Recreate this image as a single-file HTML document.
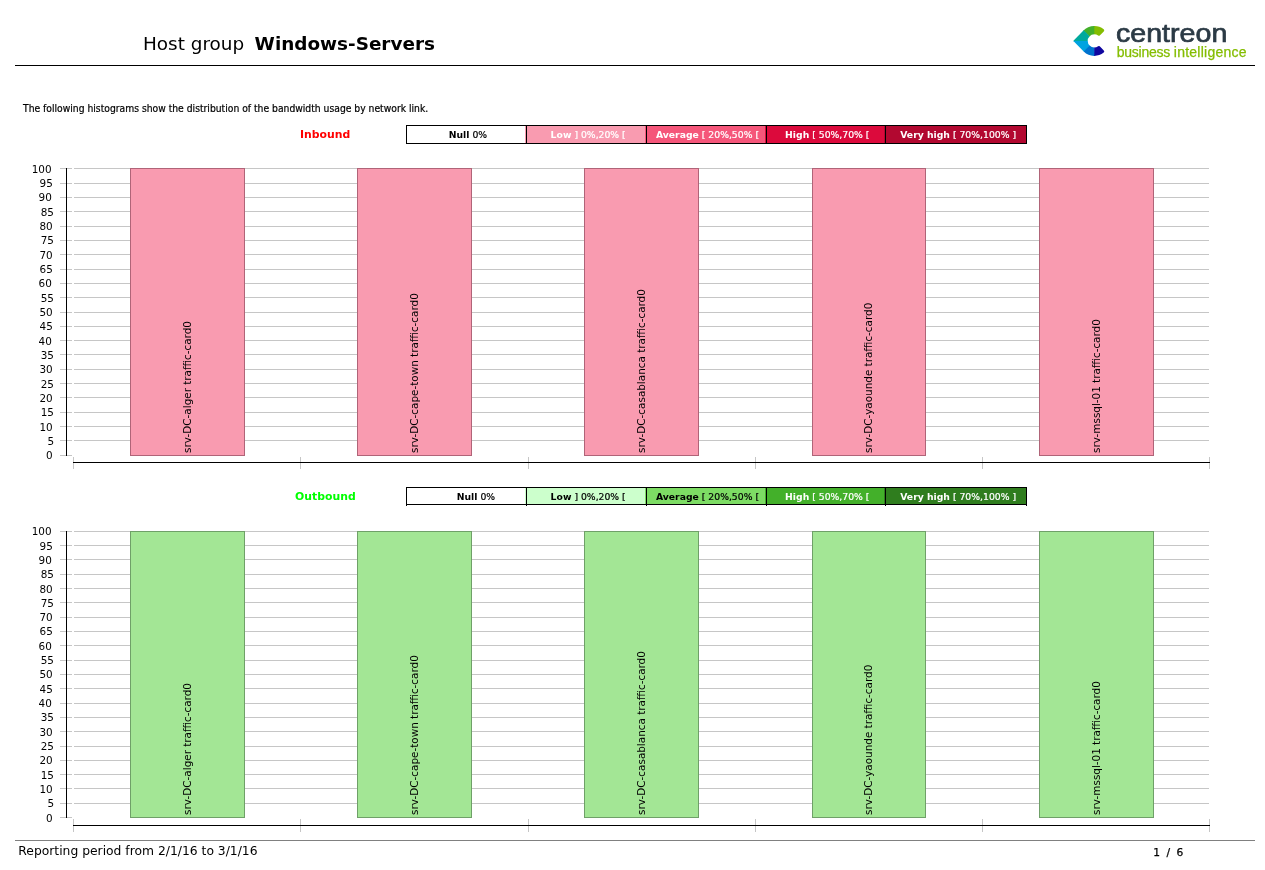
<!DOCTYPE html>
<html lang="en"><head><meta charset="utf-8"><title>Host group Windows-Servers</title>
<style>
html,body{margin:0;padding:0;background:#fff;}
body{width:1265px;height:870px;position:relative;overflow:hidden;font-family:"DejaVu Sans","Liberation Sans",sans-serif;color:#000;}
.abs{position:absolute;white-space:nowrap;}
.t1{font-size:18.4px;line-height:22px;}
.hl{position:absolute;height:1px;}
.vl{position:absolute;width:1px;}
.intro{transform-origin:0 0;transform:scaleX(1.051);-webkit-text-stroke:0.2px;font-family:"DejaVu Sans Condensed","DejaVu Sans","Liberation Sans",sans-serif;font-size:9.75px;line-height:12px;}
.lc{position:absolute;text-align:center;font-family:"DejaVu Sans Condensed","DejaVu Sans","Liberation Sans",sans-serif;font-size:9.1px;line-height:18.6px;overflow:hidden;white-space:nowrap;}
.lc b{font-weight:bold;-webkit-text-stroke:0;}
.lc span{display:inline-block;transform:scaleX(1.132);-webkit-text-stroke:0.2px;}
.ttl{transform-origin:0 0;transform:scaleX(1.15);font-family:"DejaVu Sans Condensed","DejaVu Sans","Liberation Sans",sans-serif;font-weight:bold;font-size:10.5px;line-height:14px;}
.yl{position:absolute;font-size:10.42px;line-height:12px;width:40px;text-align:right;}
.bar{position:absolute;box-sizing:border-box;}
.bl{position:absolute;font-size:10.42px;line-height:12px;white-space:nowrap;transform-origin:0 0;transform:rotate(-90deg);}
.foot{font-size:12.33px;line-height:14px;}
</style></head><body>

<div class="abs t1" style="left:143px;top:33px;">Host group</div>
<div class="abs t1" style="left:254.6px;top:33px;font-weight:bold;">Windows-Servers</div>
<div class="hl" style="left:15px;top:65px;width:1240px;background:#000;"></div>
<svg class="abs" style="left:1065px;top:15px;" width="60" height="50" viewBox="0 0 60 50">
<path d="M38.72 14.22A15.0 15.0 0 0 0 28.51 10.92L28.95 19.31A6.6 6.6 0 0 1 33.11 20.51Q33.97 21.23 34.76 20.44L38.78 16.42Q39.91 15.29 38.72 14.22Z" fill="#84bd00"/>
<path d="M29.30 10.90A15.0 15.0 0 0 0 18.15 15.86L24.40 21.48A6.6 6.6 0 0 1 29.30 19.30Z" fill="#43b02a"/>
<path d="M18.69 15.29L8.90 25.35Q8.30 25.90 8.40 26.20L22.70 26.20A6.6 6.6 0 0 1 24.63 21.23Z" fill="#00a99d"/>
<path d="M19.26 37.05A15.0 15.0 0 0 1 18.69 36.51L8.90 26.45Q8.30 25.90 8.40 25.90L22.70 25.90A6.6 6.6 0 0 0 24.88 30.80Z" fill="#00a3e0"/>
<path d="M18.69 36.51A15.0 15.0 0 0 0 30.09 40.88L29.65 32.49A6.6 6.6 0 0 1 24.63 30.57Z" fill="#0072ce"/>
<path d="M29.30 40.90A15.0 15.0 0 0 0 38.72 37.58Q39.91 36.51 38.78 35.38L34.76 31.36Q33.97 30.57 33.11 31.29A6.6 6.6 0 0 1 29.30 32.50Z" fill="#10069f"/></svg>
<div class="abs" id="ctn" style="left:1116px;top:17.5px;font-family:'Liberation Sans',sans-serif;font-size:26px;line-height:30px;color:#2b3a45;-webkit-text-stroke:0.7px #2b3a45;transform-origin:0 0;transform:scaleX(1.10);">centreon</div>
<div class="abs" id="bi" style="left:1116.8px;top:42.5px;font-family:'Liberation Sans',sans-serif;font-size:14px;line-height:18px;color:#84bd00;-webkit-text-stroke:0.25px #84bd00;"><span style="letter-spacing:-0.27px">business</span> <span style="letter-spacing:0.24px">intelligence</span></div>
<div class="abs intro" style="left:23px;top:103px;">The following histograms show the distribution of the bandwidth usage by network link.</div>
<div class="abs ttl" style="left:300px;top:127.35px;color:#ff0000;">Inbound</div>
<div class="lc" style="left:407px;top:126px;width:114px;padding-left:4px;height:17px;background:#fff;color:#000;"><span><b>Null</b> 0%</span></div>
<div class="lc" style="left:525px;top:126px;width:114px;padding-left:6px;height:17px;background:#f99bb0;color:#fff;"><span><b>Low</b> ] 0%,20% [</span></div>
<div class="lc" style="left:645px;top:126px;width:114px;padding-left:6px;height:17px;background:#f5567a;color:#fff;"><span><b>Average</b> [ 20%,50% [</span></div>
<div class="lc" style="left:765px;top:126px;width:113px;padding-left:6px;height:17px;background:#dc0a3c;color:#fff;"><span><b>High</b> [ 50%,70% [</span></div>
<div class="lc" style="left:884px;top:126px;width:136px;padding-left:6px;height:17px;background:#b20830;color:#fff;"><span><b>Very high</b> [ 70%,100% ]</span></div>
<div class="hl" style="left:406px;top:125px;width:621px;background:#000;"></div>
<div class="hl" style="left:406px;top:143px;width:621px;background:#000;"></div>
<div class="vl" style="left:406px;top:125px;height:19px;background:#000;"></div>
<div class="vl" style="left:526px;top:125px;height:19px;background:#000;"></div>
<div class="vl" style="left:646px;top:125px;height:19px;background:#000;"></div>
<div class="vl" style="left:766px;top:125px;height:19px;background:#000;"></div>
<div class="vl" style="left:885px;top:125px;height:19px;background:#000;"></div>
<div class="vl" style="left:1026px;top:125px;height:19px;background:#000;"></div>
<div class="hl" style="left:60px;top:168px;width:12px;background:#c6c6c6;"></div>
<div class="hl" style="left:74px;top:168px;width:1135px;background:#c6c6c6;"></div>
<div class="yl" style="left:11.54px;top:162.82px;">100</div>
<div class="hl" style="left:60px;top:183px;width:12px;background:#c6c6c6;"></div>
<div class="hl" style="left:74px;top:183px;width:1135px;background:#c6c6c6;"></div>
<div class="yl" style="left:12.85px;top:177.14px;">95</div>
<div class="hl" style="left:60px;top:197px;width:12px;background:#c6c6c6;"></div>
<div class="hl" style="left:74px;top:197px;width:1135px;background:#c6c6c6;"></div>
<div class="yl" style="left:11.79px;top:191.46px;">90</div>
<div class="hl" style="left:60px;top:211px;width:12px;background:#c6c6c6;"></div>
<div class="hl" style="left:74px;top:211px;width:1135px;background:#c6c6c6;"></div>
<div class="yl" style="left:14.00px;top:205.78px;">85</div>
<div class="hl" style="left:60px;top:226px;width:12px;background:#c6c6c6;"></div>
<div class="hl" style="left:74px;top:226px;width:1135px;background:#c6c6c6;"></div>
<div class="yl" style="left:12.69px;top:220.10px;">80</div>
<div class="hl" style="left:60px;top:240px;width:12px;background:#c6c6c6;"></div>
<div class="hl" style="left:74px;top:240px;width:1135px;background:#c6c6c6;"></div>
<div class="yl" style="left:14.00px;top:234.42px;">75</div>
<div class="hl" style="left:60px;top:254px;width:12px;background:#c6c6c6;"></div>
<div class="hl" style="left:74px;top:254px;width:1135px;background:#c6c6c6;"></div>
<div class="yl" style="left:12.69px;top:248.74px;">70</div>
<div class="hl" style="left:60px;top:269px;width:12px;background:#c6c6c6;"></div>
<div class="hl" style="left:74px;top:269px;width:1135px;background:#c6c6c6;"></div>
<div class="yl" style="left:12.80px;top:263.06px;">65</div>
<div class="hl" style="left:60px;top:283px;width:12px;background:#c6c6c6;"></div>
<div class="hl" style="left:74px;top:283px;width:1135px;background:#c6c6c6;"></div>
<div class="yl" style="left:11.79px;top:277.38px;">60</div>
<div class="hl" style="left:60px;top:297px;width:12px;background:#c6c6c6;"></div>
<div class="hl" style="left:74px;top:297px;width:1135px;background:#c6c6c6;"></div>
<div class="yl" style="left:14.00px;top:291.70px;">55</div>
<div class="hl" style="left:60px;top:312px;width:12px;background:#c6c6c6;"></div>
<div class="hl" style="left:74px;top:312px;width:1135px;background:#c6c6c6;"></div>
<div class="yl" style="left:12.69px;top:306.02px;">50</div>
<div class="hl" style="left:60px;top:326px;width:12px;background:#c6c6c6;"></div>
<div class="hl" style="left:74px;top:326px;width:1135px;background:#c6c6c6;"></div>
<div class="yl" style="left:12.80px;top:320.34px;">45</div>
<div class="hl" style="left:60px;top:340px;width:12px;background:#c6c6c6;"></div>
<div class="hl" style="left:74px;top:340px;width:1135px;background:#c6c6c6;"></div>
<div class="yl" style="left:11.79px;top:334.66px;">40</div>
<div class="hl" style="left:60px;top:354px;width:12px;background:#c6c6c6;"></div>
<div class="hl" style="left:74px;top:354px;width:1135px;background:#c6c6c6;"></div>
<div class="yl" style="left:14.00px;top:348.98px;">35</div>
<div class="hl" style="left:60px;top:369px;width:12px;background:#c6c6c6;"></div>
<div class="hl" style="left:74px;top:369px;width:1135px;background:#c6c6c6;"></div>
<div class="yl" style="left:12.69px;top:363.30px;">30</div>
<div class="hl" style="left:60px;top:383px;width:12px;background:#c6c6c6;"></div>
<div class="hl" style="left:74px;top:383px;width:1135px;background:#c6c6c6;"></div>
<div class="yl" style="left:14.00px;top:377.62px;">25</div>
<div class="hl" style="left:60px;top:397px;width:12px;background:#c6c6c6;"></div>
<div class="hl" style="left:74px;top:397px;width:1135px;background:#c6c6c6;"></div>
<div class="yl" style="left:12.69px;top:391.94px;">20</div>
<div class="hl" style="left:60px;top:412px;width:12px;background:#c6c6c6;"></div>
<div class="hl" style="left:74px;top:412px;width:1135px;background:#c6c6c6;"></div>
<div class="yl" style="left:14.00px;top:406.26px;">15</div>
<div class="hl" style="left:60px;top:426px;width:12px;background:#c6c6c6;"></div>
<div class="hl" style="left:74px;top:426px;width:1135px;background:#c6c6c6;"></div>
<div class="yl" style="left:12.69px;top:420.58px;">10</div>
<div class="hl" style="left:60px;top:440px;width:12px;background:#c6c6c6;"></div>
<div class="hl" style="left:74px;top:440px;width:1135px;background:#c6c6c6;"></div>
<div class="yl" style="left:14.00px;top:434.90px;">5</div>
<div class="hl" style="left:60px;top:455px;width:12px;background:#c6c6c6;"></div>
<div class="yl" style="left:12.69px;top:449.22px;">0</div>
<div class="vl" style="left:66px;top:168px;height:288px;background:#000;"></div>
<div class="vl" style="left:73px;top:457px;height:12px;background:#c6c6c6;"></div>
<div class="vl" style="left:300px;top:457px;height:12px;background:#c6c6c6;"></div>
<div class="vl" style="left:528px;top:457px;height:12px;background:#c6c6c6;"></div>
<div class="vl" style="left:755px;top:457px;height:12px;background:#c6c6c6;"></div>
<div class="vl" style="left:982px;top:457px;height:12px;background:#c6c6c6;"></div>
<div class="vl" style="left:1209px;top:457px;height:12px;background:#c6c6c6;"></div>
<div class="hl" style="left:73px;top:462px;width:1137px;background:#000;"></div>
<div class="bar" style="left:130px;top:168px;width:115px;height:288px;background:#f99bb0;border:1px solid #b06478;"></div>
<div class="bl" style="left:181.30px;top:452.62px;">srv-DC-alger traffic-card0</div>
<div class="bar" style="left:357px;top:168px;width:115px;height:288px;background:#f99bb0;border:1px solid #b06478;"></div>
<div class="bl" style="left:407.70px;top:452.62px;">srv-DC-cape-town traffic-card0</div>
<div class="bar" style="left:584px;top:168px;width:115px;height:288px;background:#f99bb0;border:1px solid #b06478;"></div>
<div class="bl" style="left:635.00px;top:452.62px;">srv-DC-casablanca traffic-card0</div>
<div class="bar" style="left:812px;top:168px;width:114px;height:288px;background:#f99bb0;border:1px solid #b06478;"></div>
<div class="bl" style="left:862.20px;top:452.62px;">srv-DC-yaounde traffic-card0</div>
<div class="bar" style="left:1039px;top:168px;width:115px;height:288px;background:#f99bb0;border:1px solid #b06478;"></div>
<div class="bl" style="left:1090.10px;top:452.62px;">srv-mssql-01 traffic-card0</div>
<div class="abs ttl" style="left:295px;top:489.35px;color:#00ff00;">Outbound</div>
<div class="lc" style="left:407px;top:488px;width:99px;padding-left:19px;height:16px;background:#fff;color:#000;"><span><b>Null</b> 0%</span></div>
<div class="lc" style="left:525px;top:488px;width:114px;padding-left:6px;height:16px;background:#ccffcc;color:#000;"><span><b>Low</b> ] 0%,20% [</span></div>
<div class="lc" style="left:645px;top:488px;width:114px;padding-left:6px;height:16px;background:#7ddc64;color:#000;"><span><b>Average</b> [ 20%,50% [</span></div>
<div class="lc" style="left:765px;top:488px;width:113px;padding-left:6px;height:16px;background:#43b02a;color:#fff;"><span><b>High</b> [ 50%,70% [</span></div>
<div class="lc" style="left:884px;top:488px;width:136px;padding-left:6px;height:16px;background:#2f7d1e;color:#fff;"><span><b>Very high</b> [ 70%,100% ]</span></div>
<div class="hl" style="left:406px;top:487px;width:621px;background:#000;"></div>
<div class="hl" style="left:406px;top:504px;width:621px;background:#000;"></div>
<div class="vl" style="left:406px;top:487px;height:19px;background:#000;"></div>
<div class="vl" style="left:526px;top:487px;height:19px;background:#000;"></div>
<div class="vl" style="left:646px;top:487px;height:19px;background:#000;"></div>
<div class="vl" style="left:766px;top:487px;height:19px;background:#000;"></div>
<div class="vl" style="left:885px;top:487px;height:19px;background:#000;"></div>
<div class="vl" style="left:1026px;top:487px;height:19px;background:#000;"></div>
<div class="hl" style="left:60px;top:531px;width:12px;background:#c6c6c6;"></div>
<div class="hl" style="left:74px;top:531px;width:1135px;background:#c6c6c6;"></div>
<div class="yl" style="left:11.54px;top:525.22px;">100</div>
<div class="hl" style="left:60px;top:545px;width:12px;background:#c6c6c6;"></div>
<div class="hl" style="left:74px;top:545px;width:1135px;background:#c6c6c6;"></div>
<div class="yl" style="left:12.85px;top:539.54px;">95</div>
<div class="hl" style="left:60px;top:559px;width:12px;background:#c6c6c6;"></div>
<div class="hl" style="left:74px;top:559px;width:1135px;background:#c6c6c6;"></div>
<div class="yl" style="left:11.79px;top:553.86px;">90</div>
<div class="hl" style="left:60px;top:574px;width:12px;background:#c6c6c6;"></div>
<div class="hl" style="left:74px;top:574px;width:1135px;background:#c6c6c6;"></div>
<div class="yl" style="left:14.00px;top:568.18px;">85</div>
<div class="hl" style="left:60px;top:588px;width:12px;background:#c6c6c6;"></div>
<div class="hl" style="left:74px;top:588px;width:1135px;background:#c6c6c6;"></div>
<div class="yl" style="left:12.69px;top:582.50px;">80</div>
<div class="hl" style="left:60px;top:602px;width:12px;background:#c6c6c6;"></div>
<div class="hl" style="left:74px;top:602px;width:1135px;background:#c6c6c6;"></div>
<div class="yl" style="left:14.00px;top:596.82px;">75</div>
<div class="hl" style="left:60px;top:617px;width:12px;background:#c6c6c6;"></div>
<div class="hl" style="left:74px;top:617px;width:1135px;background:#c6c6c6;"></div>
<div class="yl" style="left:12.69px;top:611.14px;">70</div>
<div class="hl" style="left:60px;top:631px;width:12px;background:#c6c6c6;"></div>
<div class="hl" style="left:74px;top:631px;width:1135px;background:#c6c6c6;"></div>
<div class="yl" style="left:12.80px;top:625.46px;">65</div>
<div class="hl" style="left:60px;top:645px;width:12px;background:#c6c6c6;"></div>
<div class="hl" style="left:74px;top:645px;width:1135px;background:#c6c6c6;"></div>
<div class="yl" style="left:11.79px;top:639.78px;">60</div>
<div class="hl" style="left:60px;top:660px;width:12px;background:#c6c6c6;"></div>
<div class="hl" style="left:74px;top:660px;width:1135px;background:#c6c6c6;"></div>
<div class="yl" style="left:14.00px;top:654.10px;">55</div>
<div class="hl" style="left:60px;top:674px;width:12px;background:#c6c6c6;"></div>
<div class="hl" style="left:74px;top:674px;width:1135px;background:#c6c6c6;"></div>
<div class="yl" style="left:12.69px;top:668.42px;">50</div>
<div class="hl" style="left:60px;top:688px;width:12px;background:#c6c6c6;"></div>
<div class="hl" style="left:74px;top:688px;width:1135px;background:#c6c6c6;"></div>
<div class="yl" style="left:12.80px;top:682.74px;">45</div>
<div class="hl" style="left:60px;top:703px;width:12px;background:#c6c6c6;"></div>
<div class="hl" style="left:74px;top:703px;width:1135px;background:#c6c6c6;"></div>
<div class="yl" style="left:11.79px;top:697.06px;">40</div>
<div class="hl" style="left:60px;top:717px;width:12px;background:#c6c6c6;"></div>
<div class="hl" style="left:74px;top:717px;width:1135px;background:#c6c6c6;"></div>
<div class="yl" style="left:14.00px;top:711.38px;">35</div>
<div class="hl" style="left:60px;top:731px;width:12px;background:#c6c6c6;"></div>
<div class="hl" style="left:74px;top:731px;width:1135px;background:#c6c6c6;"></div>
<div class="yl" style="left:12.69px;top:725.70px;">30</div>
<div class="hl" style="left:60px;top:746px;width:12px;background:#c6c6c6;"></div>
<div class="hl" style="left:74px;top:746px;width:1135px;background:#c6c6c6;"></div>
<div class="yl" style="left:14.00px;top:740.02px;">25</div>
<div class="hl" style="left:60px;top:760px;width:12px;background:#c6c6c6;"></div>
<div class="hl" style="left:74px;top:760px;width:1135px;background:#c6c6c6;"></div>
<div class="yl" style="left:12.69px;top:754.34px;">20</div>
<div class="hl" style="left:60px;top:774px;width:12px;background:#c6c6c6;"></div>
<div class="hl" style="left:74px;top:774px;width:1135px;background:#c6c6c6;"></div>
<div class="yl" style="left:14.00px;top:768.66px;">15</div>
<div class="hl" style="left:60px;top:788px;width:12px;background:#c6c6c6;"></div>
<div class="hl" style="left:74px;top:788px;width:1135px;background:#c6c6c6;"></div>
<div class="yl" style="left:12.69px;top:782.98px;">10</div>
<div class="hl" style="left:60px;top:803px;width:12px;background:#c6c6c6;"></div>
<div class="hl" style="left:74px;top:803px;width:1135px;background:#c6c6c6;"></div>
<div class="yl" style="left:14.00px;top:797.30px;">5</div>
<div class="hl" style="left:60px;top:817px;width:12px;background:#c6c6c6;"></div>
<div class="yl" style="left:12.69px;top:811.62px;">0</div>
<div class="vl" style="left:66px;top:531px;height:287px;background:#000;"></div>
<div class="vl" style="left:73px;top:819px;height:13px;background:#c6c6c6;"></div>
<div class="vl" style="left:300px;top:819px;height:13px;background:#c6c6c6;"></div>
<div class="vl" style="left:528px;top:819px;height:13px;background:#c6c6c6;"></div>
<div class="vl" style="left:755px;top:819px;height:13px;background:#c6c6c6;"></div>
<div class="vl" style="left:982px;top:819px;height:13px;background:#c6c6c6;"></div>
<div class="vl" style="left:1209px;top:819px;height:13px;background:#c6c6c6;"></div>
<div class="hl" style="left:73px;top:825px;width:1137px;background:#000;"></div>
<div class="bar" style="left:130px;top:531px;width:115px;height:287px;background:#a3e695;border:1px solid #6fa068;"></div>
<div class="bl" style="left:181.30px;top:815.02px;">srv-DC-alger traffic-card0</div>
<div class="bar" style="left:357px;top:531px;width:115px;height:287px;background:#a3e695;border:1px solid #6fa068;"></div>
<div class="bl" style="left:407.70px;top:815.02px;">srv-DC-cape-town traffic-card0</div>
<div class="bar" style="left:584px;top:531px;width:115px;height:287px;background:#a3e695;border:1px solid #6fa068;"></div>
<div class="bl" style="left:635.00px;top:815.02px;">srv-DC-casablanca traffic-card0</div>
<div class="bar" style="left:812px;top:531px;width:114px;height:287px;background:#a3e695;border:1px solid #6fa068;"></div>
<div class="bl" style="left:862.20px;top:815.02px;">srv-DC-yaounde traffic-card0</div>
<div class="bar" style="left:1039px;top:531px;width:115px;height:287px;background:#a3e695;border:1px solid #6fa068;"></div>
<div class="bl" style="left:1090.10px;top:815.02px;">srv-mssql-01 traffic-card0</div>
<div class="hl" style="left:15px;top:840px;width:1240px;background:#808080;"></div>
<div class="abs foot" style="left:18.3px;top:844px;">Reporting period from 2/1/16 to 3/1/16</div>
<div class="abs foot" style="left:1153.2px;top:846.25px;font-size:10.67px;word-spacing:3.14px;-webkit-text-stroke:0.25px #000;">1 / 6</div>
</body></html>
